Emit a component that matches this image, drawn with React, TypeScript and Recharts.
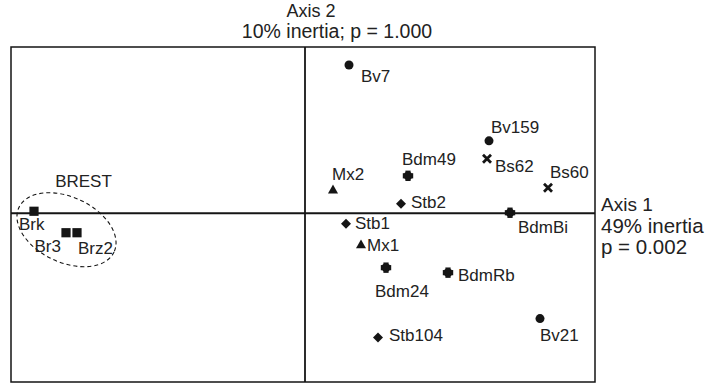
import {
  Customized,
  ReferenceArea,
  ReferenceDot,
  ReferenceLine,
  Scatter,
  ScatterChart,
  XAxis,
  YAxis,
} from 'recharts'

// correspondence analysis scores (axis 1, axis 2)
const brestNames = ['Brk', 'Br3', 'Brz2']
const brestAxis1 = [-2.71, -2.39, -2.28]
const brestAxis2 = [0.02, -0.195, -0.195]

const bvNames = ['Bv7', 'Bv159', 'Bv21']
const bvAxis1 = [0.44, 1.84, 2.35]
const bvAxis2 = [1.485, 0.725, -1.055]

const bsNames = ['Bs62', 'Bs60']
const bsAxis1 = [1.82, 2.43]
const bsAxis2 = [0.545, 0.255]

const bdmNames = ['Bdm49', 'BdmBi', 'Bdm24', 'BdmRb']
const bdmAxis1 = [1.03, 2.05, 0.81, 1.43]
const bdmAxis2 = [0.375, 0.005, -0.545, -0.595]

const mxNames = ['Mx2', 'Mx1']
const mxAxis1 = [0.28, 0.56]
const mxAxis2 = [0.235, -0.315]

const stbNames = ['Stb2', 'Stb1', 'Stb104']
const stbAxis1 = [0.96, 0.41, 0.73]
const stbAxis2 = [0.095, -0.105, -1.245]

const xDomain = [-2.94, 2.9]
const yDomain = [-1.69, 1.665]

// BREST group ellipse: centre and half-extents in axis units
const brestCentre = [-2.385, -0.165]
const brestHalf = [0.525, 0.327]

const zip = (names: string[], xs: number[], ys: number[]) =>
  names.map((name, i) => ({ name, x: xs[i], y: ys[i] }))

// label placement relative to the marker: [dx, dy, anchor]
const labelOffsets: Record<string, [number, number, 'start' | 'end']> = {
  Brk: [-15, 13, 'start'],
  Br3: [-5, 13, 'end'],
  Brz2: [1, 15, 'start'],
  Bv7: [12, 11, 'start'],
  Bv159: [2, -14, 'start'],
  Bv21: [0, 16, 'start'],
  Bs62: [8, 7, 'start'],
  Bs60: [2, -16, 'start'],
  Bdm49: [-6, -17, 'start'],
  BdmBi: [8, 14, 'start'],
  Bdm24: [-11, 23, 'start'],
  BdmRb: [10, 2, 'start'],
  Mx2: [-1, -16, 'start'],
  Mx1: [6, 0, 'start'],
  Stb2: [10, -2, 'start'],
  Stb1: [9, -1, 'start'],
  Stb104: [11, -3, 'start'],
}

const font = '"Liberation Sans", Arial, Helvetica, sans-serif'
const ink = '#151515'

const Label = ({ cx, cy, name }: { cx: number; cy: number; name: string }) => {
  const [dx, dy, anchor] = labelOffsets[name] ?? [8, 0, 'start']
  return (
    <text
      x={cx + dx}
      y={cy + dy + 6}
      textAnchor={anchor}
      fontSize={17}
      fontFamily={font}
      fill="#222"
    >
      {name}
    </text>
  )
}

const makeShape = (kind: string) => (props: any) => {
  const { cx, cy, payload } = props
  let marker
  if (kind === 'square') {
    marker = <rect x={cx - 4.6} y={cy - 4.6} width={9.2} height={9.2} fill={ink} />
  } else if (kind === 'circle') {
    marker = <circle cx={cx} cy={cy} r={4.5} fill={ink} />
  } else if (kind === 'cross') {
    marker = (
      <path
        d={`M${cx - 4},${cy - 4}L${cx + 4},${cy + 4}M${cx - 4},${cy + 4}L${cx + 4},${cy - 4}`}
        stroke={ink}
        strokeWidth={2.8}
      />
    )
  } else if (kind === 'bdm') {
    marker = (
      <g fill={ink}>
        <circle cx={cx} cy={cy} r={4.4} />
        <rect x={cx - 5.2} y={cy - 2.6} width={10.4} height={5.2} />
        <rect x={cx - 2.6} y={cy - 5.2} width={5.2} height={10.4} />
      </g>
    )
  } else if (kind === 'triangle') {
    marker = (
      <path d={`M${cx},${cy - 5.2}L${cx + 5},${cy + 3.6}L${cx - 5},${cy + 3.6}Z`} fill={ink} />
    )
  } else {
    marker = (
      <path d={`M${cx},${cy - 5}L${cx + 5},${cy}L${cx},${cy + 5}L${cx - 5},${cy}Z`} fill={ink} />
    )
  }
  return (
    <g>
      {marker}
      <Label cx={cx} cy={cy} name={payload.name} />
    </g>
  )
}

const BrestEllipse = (props: any) => {
  const { x, y, width, height } = props
  const cx = x + width / 2
  const cy = y + height / 2
  return (
    <ellipse
      cx={cx}
      cy={cy}
      rx={width / 2}
      ry={height / 2}
      transform={`rotate(25 ${cx} ${cy})`}
      fill="none"
      stroke={ink}
      strokeWidth={1.1}
      strokeDasharray="4 3"
    />
  )
}

const AxisTitles = () => (
  <g fontFamily={font} fill="#222">
    <text x={311} y={17} textAnchor="middle" fontSize={18}>
      Axis 2
    </text>
    <text x={337} y={38} textAnchor="middle" fontSize={19.5}>
      10% inertia; p = 1.000
    </text>
    <text x={601} y={211} fontSize={19}>
      Axis 1
    </text>
    <text x={601} y={233} fontSize={20.5}>
      49% inertia
    </text>
    <text x={601} y={254} fontSize={20.5}>
      p = 0.002
    </text>
  </g>
)

export default function App() {
  return (
    <div style={{ position: 'absolute', left: 0, top: 0 }}>
      <ScatterChart
        width={725}
        height={384}
        margin={{ top: 47, right: 130, bottom: 2, left: 11 }}
      >
        <XAxis type="number" dataKey="x" domain={xDomain} allowDataOverflow hide />
        <YAxis type="number" dataKey="y" domain={yDomain} allowDataOverflow hide />
        <ReferenceArea
          x1={xDomain[0]}
          x2={xDomain[1]}
          y1={yDomain[0]}
          y2={yDomain[1]}
          fill="none"
          stroke={ink}
          strokeWidth={1.5}
        />
        <ReferenceLine x={0} stroke={ink} strokeWidth={1.8} />
        <ReferenceLine y={0} stroke={ink} strokeWidth={2} />
        <ReferenceArea
          x1={brestCentre[0] - brestHalf[0]}
          x2={brestCentre[0] + brestHalf[0]}
          y1={brestCentre[1] - brestHalf[1]}
          y2={brestCentre[1] + brestHalf[1]}
          shape={BrestEllipse}
        />
        <ReferenceDot
          x={-2.215}
          y={0.325}
          r={0}
          shape={(p: any) => (
            <text x={p.cx} y={p.cy + 6} textAnchor="middle" fontSize={17} fontFamily={font} fill="#222">
              BREST
            </text>
          )}
        />
        <Scatter data={zip(brestNames, brestAxis1, brestAxis2)} shape={makeShape('square')} isAnimationActive={false} />
        <Scatter data={zip(bvNames, bvAxis1, bvAxis2)} shape={makeShape('circle')} isAnimationActive={false} />
        <Scatter data={zip(bsNames, bsAxis1, bsAxis2)} shape={makeShape('cross')} isAnimationActive={false} />
        <Scatter data={zip(bdmNames, bdmAxis1, bdmAxis2)} shape={makeShape('bdm')} isAnimationActive={false} />
        <Scatter data={zip(mxNames, mxAxis1, mxAxis2)} shape={makeShape('triangle')} isAnimationActive={false} />
        <Scatter data={zip(stbNames, stbAxis1, stbAxis2)} shape={makeShape('diamond')} isAnimationActive={false} />
        <Customized component={<AxisTitles />} />
      </ScatterChart>
    </div>
  )
}
